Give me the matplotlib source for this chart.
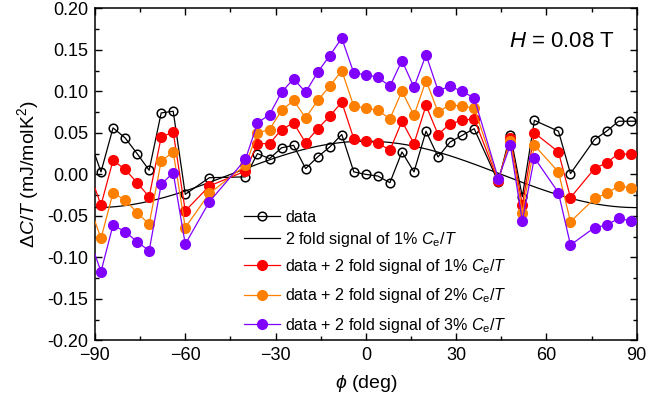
import numpy as np
import matplotlib
matplotlib.use("Agg")
import matplotlib.pyplot as plt
from matplotlib.ticker import MultipleLocator, FormatStrFormatter

# ========= 字体 / 样式 =========
plt.rcParams.update(
    {
        "font.family": ["Liberation Sans", "DejaVu Sans"],
        "mathtext.fontset": "custom",
        "mathtext.rm": "Liberation Sans",
        "mathtext.it": "Liberation Sans:italic",
        "mathtext.bf": "Liberation Sans:bold",
        "font.size": 13,
        "axes.linewidth": 1.1,
    }
)

# ========= 数据 =========
phi = [-92, -88, -84, -80, -76, -72, -68, -64, -60, -52, -40, -36, -32, -28,
       -24, -20, -16, -12, -8, -4, 0, 4, 8, 12, 16, 20, 24, 28, 32, 36,
       44, 48, 52, 56, 64, 68, 76, 80, 84, 88, 92]

data = [0.044, 0.003, 0.056, 0.044, 0.025, 0.005, 0.074, 0.076, -0.024, -0.004,
        -0.003, 0.025, 0.019, 0.032, 0.035, 0.007, 0.021, 0.033, 0.048, 0.003,
        0.000, -0.002, -0.010, 0.027, 0.003, 0.052, 0.021, 0.039, 0.047, 0.055,
        -0.009, 0.048, -0.027, 0.065, 0.052, 0.001, 0.042, 0.052, 0.064, 0.064,
        0.064]

data_1pct = [0.004, -0.037, 0.017, 0.006, -0.010, -0.027, 0.045, 0.051, -0.044, -0.014,
             0.004, 0.037, 0.037, 0.054, 0.062, 0.038, 0.055, 0.070, 0.087, 0.043,
             0.040, 0.038, 0.029, 0.064, 0.037, 0.083, 0.048, 0.061, 0.065, 0.067,
             -0.008, 0.044, -0.037, 0.050, 0.027, -0.028, 0.007, 0.014, 0.025, 0.024,
             0.024]

data_2pct = [-0.036, -0.077, -0.022, -0.031, -0.046, -0.060, 0.016, 0.027, -0.064, -0.023,
             0.011, 0.050, 0.054, 0.077, 0.089, 0.068, 0.089, 0.106, 0.125, 0.082,
             0.080, 0.077, 0.067, 0.100, 0.071, 0.113, 0.075, 0.084, 0.082, 0.080,
             -0.006, 0.040, -0.046, 0.035, 0.003, -0.057, -0.029, -0.023, -0.014, -0.016,
             -0.016]

data_3pct = [-0.076, -0.117, -0.061, -0.069, -0.081, -0.092, -0.012, 0.002, -0.084, -0.033,
             0.018, 0.062, 0.072, 0.099, 0.115, 0.099, 0.123, 0.143, 0.164, 0.122,
             0.120, 0.117, 0.106, 0.137, 0.105, 0.144, 0.101, 0.106, 0.100, 0.092,
             -0.005, 0.035, -0.056, 0.020, -0.022, -0.085, -0.064, -0.061, -0.053, -0.056,
             -0.056]

# 2 fold signal 振幅 (1% Ce/T)
amp_2fold = 0.04

labels = [
    "data",
    r"2 fold signal of 1% $C_\mathrm{e}/T$",
    r"data + 2 fold signal of 1% $C_\mathrm{e}/T$",
    r"data + 2 fold signal of 2% $C_\mathrm{e}/T$",
    r"data + 2 fold signal of 3% $C_\mathrm{e}/T$",
]
colors = ["#FF0000", "#FF8000", "#8000FF"]

# ========= 绘图 =========
fig = plt.figure(figsize=(6.66, 4.04), dpi=100)
ax = fig.add_axes([0.1426, 0.1572, 0.8134, 0.8223])

phi_fine = np.linspace(-90, 90, 361)
h_fit, = ax.plot(phi_fine, amp_2fold * np.cos(np.deg2rad(2 * phi_fine)),
                 color="black", lw=0.9, zorder=2)
h_data, = ax.plot(phi, data, color="black", lw=0.9, marker="o", ms=6.2,
                  mfc="none", mec="black", mew=1.1, zorder=3)

h_col = []
for ys, c in zip([data_1pct, data_2pct, data_3pct], colors):
    h, = ax.plot(phi, ys, color=c, lw=0.9, marker="o", ms=7, mfc=c, mec=c,
                 zorder=4)
    h_col.append(h)

ax.set_xlim(-90, 90)
ax.set_ylim(-0.20, 0.20)
ax.xaxis.set_major_locator(MultipleLocator(30))
ax.xaxis.set_minor_locator(MultipleLocator(15))
ax.yaxis.set_major_locator(MultipleLocator(0.05))
ax.yaxis.set_minor_locator(MultipleLocator(0.025))
ax.yaxis.set_major_formatter(FormatStrFormatter("%.2f"))
ax.tick_params(which="both", direction="in", top=True, right=True, width=1.0,
               labelsize=13)
ax.tick_params(which="major", length=5, pad=5)
ax.tick_params(which="minor", length=3)

ax.set_xlabel(r"$\phi$ (deg)", fontsize=14, labelpad=6)
ax.set_ylabel(r"$\Delta C/T$ (mJ/molK$^2$)", fontsize=14, labelpad=4)

ax.text(0.96, 0.90, r"$H$ = 0.08 T", transform=ax.transAxes, fontsize=16,
        ha="right", va="center")

# 图例分两块, 行距不同
leg_kw = dict(loc="center left", frameon=False, fontsize=11.6, handlelength=2.25,
              handletextpad=0.3, borderpad=0, borderaxespad=0)
leg1 = ax.legend([h_data, h_fit], labels[:2], bbox_to_anchor=(0.275, 0.335),
                 labelspacing=0.3, **leg_kw)
ax.add_artist(leg1)
ax.legend(h_col, labels[2:], bbox_to_anchor=(0.275, 0.135),
          labelspacing=0.65, **leg_kw)

fig.savefig("out.png", dpi=100)
